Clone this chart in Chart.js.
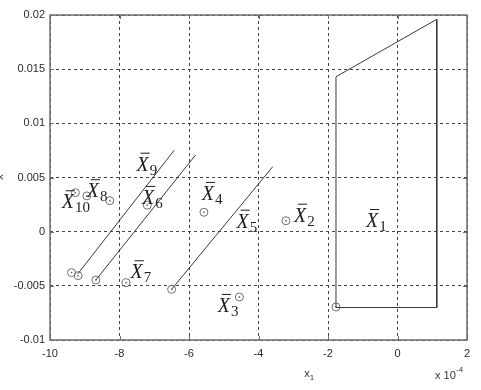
<!DOCTYPE html>
<html>
<head>
<meta charset="utf-8">
<script src="https://cdn.jsdelivr.net/npm/chart.js@4.4.1/dist/chart.umd.min.js"></script>
<style>
    body { margin: 0; background: #fff; }
    #wrap { width: 481px; height: 390px; }
</style>
</head>
<body>
<div id="wrap"><canvas id="myChart" width="481" height="390"></canvas></div>
<script>
// x values are in units of 1e-4
const xTicks = [-10, -8, -6, -4, -2, 0, 2];
const yTicks = [-0.01, -0.005, 0, 0.005, 0.01, 0.015, 0.02];

// region of X1
const regionX = [-1.77, -1.77, 1.13, 1.13, -1.77];
const regionY = [-0.007, 0.0143, 0.0196, -0.007, -0.007];

// the three slanted segments
const lineAX = [-9.2, -6.43];
const lineAY = [-0.0039, 0.0075];
const lineBX = [-8.68, -5.81];
const lineBY = [-0.00446, 0.00708];
const lineCX = [-6.50, -3.59];
const lineCY = [-0.00532, 0.0060];

// circle markers
const pointX = [-1.77, -3.21, -4.55, -5.57, -6.50, -7.20, -7.81, -8.94, -8.28, -9.27, -9.38, -9.19, -8.68];
const pointY = [-0.00695, 0.00101, -0.00603, 0.00179, -0.00532, 0.00244, -0.00471, 0.0033, 0.00286, 0.0036, -0.00378, -0.00406, -0.00446];

// labels X̄1..X̄10, anchored at left/baseline of the X
const labelNames = ['1', '2', '3', '4', '5', '6', '7', '8', '9', '10'];
const labelX = [-0.906, -2.98, -5.17, -5.63, -4.63, -7.35, -7.68, -8.94, -7.51, -9.66];
const labelY = [0.00043, 0.00092, -0.00741, 0.00293, 0.00037, 0.00256, -0.0043, 0.00318, 0.00563, 0.00216];

function toPoints(xs, ys) {
    return xs.map((x, i) => ({x: x, y: ys[i]}));
}

function lineSet(xs, ys) {
    return {
        data: toPoints(xs, ys),
        showLine: true,
        borderColor: '#3a3a3a',
        borderWidth: 1,
        pointRadius: 0,
        fill: false
    };
}

const overlay = {
    id: 'overlay',
    afterDraw(chart) {
        const ctx = chart.ctx;
        const a = chart.chartArea;
        const xs = chart.scales.x;
        const ys = chart.scales.y;
        ctx.save();

        // frame + inward tick marks
        ctx.strokeStyle = '#6e6e6e';
        ctx.lineWidth = 1.5;
        ctx.strokeRect(a.left, a.top, a.right - a.left, a.bottom - a.top);
        ctx.lineWidth = 1;
        xTicks.forEach(t => {
            const px = Math.round(xs.getPixelForValue(t)) + 0.5;
            ctx.beginPath();
            ctx.moveTo(px, a.bottom); ctx.lineTo(px, a.bottom - 4);
            ctx.moveTo(px, a.top); ctx.lineTo(px, a.top + 4);
            ctx.stroke();
        });
        yTicks.forEach(t => {
            const py = Math.round(ys.getPixelForValue(t)) + 0.5;
            ctx.beginPath();
            ctx.moveTo(a.left, py); ctx.lineTo(a.left + 4, py);
            ctx.moveTo(a.right, py); ctx.lineTo(a.right - 4, py);
            ctx.stroke();
        });

        // X̄ labels
        ctx.fillStyle = '#1e1e1e';
        ctx.strokeStyle = '#1e1e1e';
        labelNames.forEach((n, i) => {
            const px = xs.getPixelForValue(labelX[i]);
            const py = ys.getPixelForValue(labelY[i]);
            ctx.font = 'italic 20px "Liberation Serif"';
            ctx.textAlign = 'left';
            ctx.textBaseline = 'alphabetic';
            ctx.fillText('X', px, py);
            const w = ctx.measureText('X').width;
            ctx.beginPath();
            ctx.moveTo(px + 4, py - 17.5);
            ctx.lineTo(px + w + 1, py - 17.5);
            ctx.stroke();
            ctx.font = '15px "Liberation Serif"';
            ctx.fillText(n, px + w + 1, py + 4);
        });

        // axis texts
        ctx.fillStyle = '#333';
        ctx.font = '11px "Liberation Sans"';
        ctx.textAlign = 'center';
        ctx.fillText('x', 307, 377);
        ctx.font = '8px "Liberation Sans"';
        ctx.fillText('1', 312, 380);
        ctx.font = '11px "Liberation Sans"';
        ctx.textAlign = 'left';
        ctx.fillText('x 10', 435, 379);
        ctx.font = '8px "Liberation Sans"';
        ctx.fillText('-4', 456, 372);

        // y label, mostly cut off at the left edge
        ctx.translate(3, 177);
        ctx.rotate(-Math.PI / 2);
        ctx.font = '11px "Liberation Sans"';
        ctx.textAlign = 'center';
        ctx.fillText('x', 0, 0);
        ctx.restore();
    }
};

function createChart() {
    const ctx = document.getElementById('myChart').getContext('2d');
    new Chart(ctx, {
        type: 'scatter',
        data: {
            datasets: [
                lineSet(regionX, regionY),
                lineSet(lineAX, lineAY),
                lineSet(lineBX, lineBY),
                lineSet(lineCX, lineCY),
                {
                    data: toPoints(pointX, pointY),
                    pointStyle: 'circle',
                    pointRadius: 4,
                    borderColor: '#707070',
                    borderWidth: 1,
                    backgroundColor: 'rgba(0,0,0,0)'
                },
                {
                    data: toPoints(pointX, pointY),
                    pointRadius: 0.9,
                    borderWidth: 0,
                    backgroundColor: '#707070'
                }
            ]
        },
        options: {
            responsive: false,
            animation: false,
            layout: {
                padding: {top: 15, right: 14, left: 0, bottom: 0}
            },
            plugins: {
                legend: {display: false},
                tooltip: {enabled: false}
            },
            scales: {
                x: {
                    type: 'linear',
                    min: -10,
                    max: 2,
                    afterFit: s => { s.height = 50; },
                    afterBuildTicks: s => { s.ticks = xTicks.map(v => ({value: v})); },
                    grid: {color: '#444', lineWidth: 1, drawTicks: false},
                    border: {display: false, dash: [3, 3]},
                    ticks: {
                        padding: 7,
                        color: '#2a2a2a',
                        font: {family: 'Liberation Sans', size: 11},
                        callback: v => String(v)
                    }
                },
                y: {
                    type: 'linear',
                    min: -0.01,
                    max: 0.02,
                    afterFit: s => { s.width = 50; },
                    afterBuildTicks: s => { s.ticks = yTicks.map(v => ({value: v})); },
                    grid: {color: '#444', lineWidth: 1, drawTicks: false},
                    border: {display: false, dash: [3, 3]},
                    ticks: {
                        padding: 5,
                        color: '#2a2a2a',
                        font: {family: 'Liberation Sans', size: 11},
                        callback: v => String(Number(v.toFixed(4)))
                    }
                }
            }
        },
        plugins: [overlay]
    });
}

createChart();
</script>
</body>
</html>
